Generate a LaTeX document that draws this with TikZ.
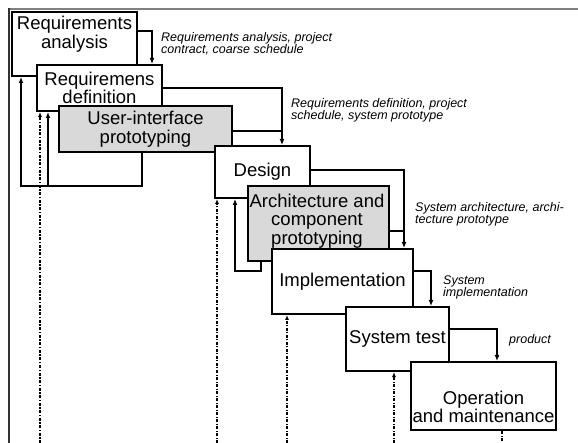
\documentclass[tikz,border=0pt]{standalone}
\usepackage{fontspec}
\setmainfont{Liberation Sans}
\usetikzlibrary{arrows.meta,calc}
\tikzset{
 box/.style={draw, line width=2pt, fill=white, inner sep=0pt},
 gbox/.style={box, fill=gray!30},
 btext/.style={font=\fontsize{18.5}{18.5}\selectfont, align=center, inner sep=0pt},
 lbl/.style={font=\fontsize{12.5}{12}\selectfont\itshape, align=left, anchor=west, inner sep=0pt},
 arr/.style={line width=1.8pt, -{Latex[length=6pt,width=5pt]}},
 ln/.style={line width=1.8pt},
 dd/.style={line width=1.3pt, dash pattern=on 3pt off 1.5pt on 1pt off 1.5pt, -{Latex[length=5pt,width=4pt]}},
 ddthick/.style={dd, line width=2.6pt, dash pattern=on 3pt off 1.5pt on 1.5pt off 1.5pt},
 ddplain/.style={line width=1.3pt, dash pattern=on 3pt off 1.5pt on 1pt off 1.5pt}
}
\begin{document}
\begin{tikzpicture}[x=1pt,y=-1pt]
\useasboundingbox (0,0) rectangle (578,443);
% frame
\draw[gray, line width=1.8pt] (9,9) -- (578,9);
\draw[black!80, line width=1.5pt] (9,8.3) -- (9,443);
% boxes
\node[box, minimum width=125pt, minimum height=64pt] (ra) at (74.5,44) {};
\node[btext] (rat) at (74.5,34) {Requirements\\analysis};
\node[box, minimum width=125pt, minimum height=46pt, btext] (rd) at (99.5,88) {Requiremens\\definition};
\node[gbox, minimum width=173pt, minimum height=46pt, btext] (ui) at (145.5,129) {User-interface\\prototyping};
\node[box, minimum width=95pt, minimum height=52pt, btext] (de) at (262.5,172) {Design};
\node[gbox, minimum width=141pt, minimum height=75pt] (ar) at (318.5,223.5) {};
\node[btext] (art) at (317,221) {Architecture and\\component\\prototyping};
\node[box, minimum width=141pt, minimum height=65pt, btext] (im) at (342.5,281.5) {Implementation};
\node[box, minimum width=103pt, minimum height=64pt, btext] (st) at (397.5,339) {System test};
\node[box, minimum width=145pt, minimum height=68pt] (om) at (483.5,396) {};
\node[btext] (omt) at (483.5,407) {Operation\\and maintenance};
% labels
\node[lbl] (l1) at (161,43.5) {Requirements analysis, project\\contract, coarse schedule};
\node[lbl] (l2) at (291,110.5) {Requirements definition, project\\schedule, system prototype};
\node[lbl] (l3) at (415,214) {System architecture, archi-\\tecture prototype};
\node[lbl] (l4) at (443,287.5) {System\\implementation};
\node[lbl] (l5) at (509,340) {product};
% forward arrows
\draw[arr] ($(ra.north east)+(0,20)$) -| ($(rd.north east)+(-11,0)$);
\coordinate (j1) at ($(de.north east)+(-29,0)$);
\draw[arr] ($(rd.north east)+(0,24)$) -| (j1);
\coordinate (u1) at ($(ui.north east)+(0,26)$);
\draw[ln] (u1) -- (u1 -| j1);
\coordinate (j2) at ($(im.north east)+(-10,0)$);
\draw[arr] ($(de.north east)+(0,25)$) -| (j2);
\coordinate (a1) at ($(ar.north east)+(0,46)$);
\draw[ln] (a1) -- (a1 -| j2);
\draw[arr] ($(im.north east)+(0,23)$) -| ($(st.north west)+(86,0)$);
\draw[arr] ($(st.north east)+(0,23)$) -| ($(om.north west)+(87,0)$);
% feedback arrows
\coordinate (b1) at ($(ra.south west)+(10,109)$);
\coordinate (b2) at ($(rd.south west)+(12,74)$);
\draw[arr] ($(ui.south west)+(84,0)$) |- (b1) -- (b1 |- ra.south);
\draw[arr] (b2) -- (b2 |- rd.south);
\coordinate (b3) at ($(de.south west)+(21,72)$);
\draw[arr] ($(ar.south west)+(14,0)$) |- (b3) -- (b3 |- de.south);
% dash-dot lines from below
\coordinate (d1) at (40,443);
\coordinate (d2) at (217,443);
\coordinate (d3) at (287,443);
\coordinate (d4) at (394,443);
\coordinate (d5) at (502,443);
\draw[ddthick] (d1) -- (d1 |- rd.south);
\draw[dd] (d2) -- (d2 |- de.south);
\draw[dd] (d3) -- (d3 |- im.south);
\draw[dd] (d4) -- (d4 |- st.south);
\draw[ddplain] (d5 |- om.south) -- (d5);
\end{tikzpicture}
\end{document}
